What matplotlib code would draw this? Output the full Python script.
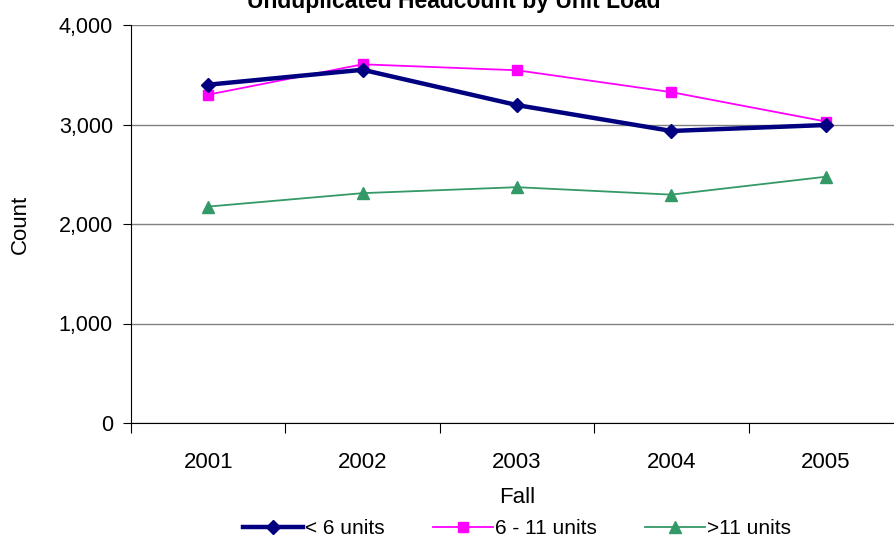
import numpy as np
import matplotlib
matplotlib.use('Agg')
import matplotlib.pyplot as plt

plt.rcParams['font.family'] = ['Liberation Sans', 'DejaVu Sans']

## data
years = ['2001', '2002', '2003', '2004', '2005']
under6 = [3400, 3550, 3195, 2935, 2995]
six_to_11 = [3300, 3605, 3545, 3325, 3030]
over11 = [2175, 2310, 2370, 2295, 2475]

fig = plt.figure(figsize=(8.94, 5.40), dpi=100)
ax = fig.add_axes([131/894, 1 - 423/540, (903 - 131)/894, (423 - 25)/540])

x = np.arange(len(years))
ax.plot(x, under6, color='#000080', lw=3.2, marker='D', ms=7, label='< 6 units', zorder=4)
ax.plot(x, six_to_11, color='#FF00FF', lw=1.3, marker='s', ms=7, label='6 - 11 units', zorder=3)
ax.plot(x, over11, color='#339966', lw=1.3, marker='^', ms=8, label='>11 units', zorder=3)

ax.set_xlim(-0.5, len(years) - 0.5)
ax.set_ylim(0, 4000)
ax.set_yticks([0, 1000, 2000, 3000, 4000])
ax.set_yticklabels(['0', '1,000', '2,000', '3,000', '4,000'], fontsize=15.5)
ax.set_xticks(x)
ax.set_xticklabels(years, fontsize=16)
ax.set_xticks(np.arange(-0.5, len(years)), minor=True)
ax.tick_params(axis='x', which='major', length=0, pad=21)
ax.tick_params(axis='x', which='minor', length=7, direction='out', width=0.8)
ax.tick_params(axis='y', length=6, direction='out', width=0.8, pad=7)

ax.yaxis.grid(True, color='#808080', lw=1.0)
ax.set_axisbelow(True)
for s in ['top', 'right']:
    ax.spines[s].set_visible(False)
ax.spines['left'].set_color('black')
ax.spines['bottom'].set_color('black')

ax.set_xlabel('Fall', fontsize=16, labelpad=10)
ax.set_ylabel('Count', fontsize=16, labelpad=20)

fig.text(0.507, 1 - 8/540, 'Unduplicated Headcount by Unit Load', fontsize=16.5,
         fontweight='bold', ha='center', va='baseline')

ax.legend(loc='center', bbox_to_anchor=(0.5, -0.265), ncol=3, frameon=False,
          fontsize=15, handlelength=2.9, handletextpad=0.1, columnspacing=2.3,
          borderaxespad=0)

fig.savefig('out.png', dpi=100)
